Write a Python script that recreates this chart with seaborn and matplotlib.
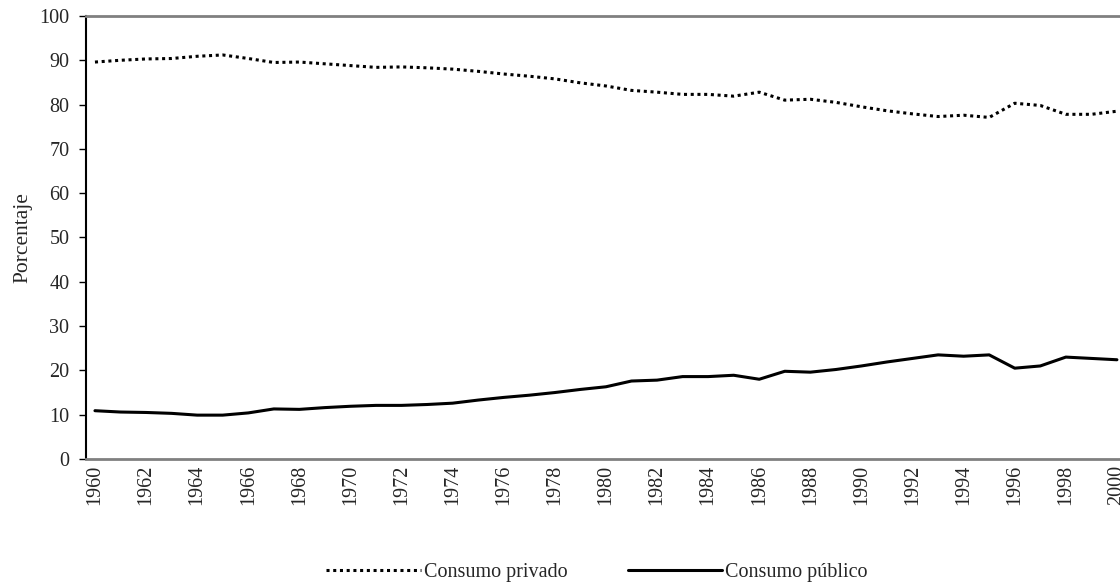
import numpy as np
import pandas as pd
import matplotlib
matplotlib.use("Agg")
import matplotlib.pyplot as plt
import seaborn as sns

years = list(range(1960, 2001))

# Consumo privado (% del total)
privado = [89.6, 90.0, 90.3, 90.4, 90.9, 91.2, 90.4, 89.5, 89.6, 89.2,
           88.8, 88.4, 88.5, 88.3, 88.0, 87.5, 86.9, 86.4, 85.8, 84.9,
           84.2, 83.2, 82.8, 82.3, 82.3, 81.9, 82.8, 81.0, 81.2, 80.5,
           79.5, 78.6, 77.9, 77.3, 77.6, 77.1, 80.3, 79.8, 77.8, 77.8,
           78.5]

# Consumo público (% del total)
publico = [10.9, 10.6, 10.5, 10.3, 9.9, 9.9, 10.4, 11.3, 11.2, 11.6,
           11.9, 12.1, 12.1, 12.3, 12.6, 13.3, 13.9, 14.4, 15.0, 15.7,
           16.3, 17.6, 17.8, 18.6, 18.6, 18.9, 18.0, 19.8, 19.6, 20.2,
           21.0, 21.9, 22.7, 23.5, 23.2, 23.5, 20.5, 21.0, 23.0, 22.7,
           22.4]

xtick_years = list(range(1960, 2001, 2))

df = pd.DataFrame({"year": years, "privado": privado, "publico": publico})

sns.set_style("white")
plt.rcParams['font.family'] = ['Liberation Serif', 'DejaVu Serif']

fig = plt.figure(figsize=(11.2, 5.85), dpi=100)
ax = fig.add_axes([0.0768, 0.2154, 0.9232, 0.7573])

sns.lineplot(data=df, x="year", y="privado", ax=ax, color="black",
             linewidth=2.2, linestyle=(0, (1, 1.2)), label="Consumo privado")
sns.lineplot(data=df, x="year", y="publico", ax=ax, color="black",
             linewidth=2.2, label="Consumo público")

ax.set_xlim(1959.65, 2000.12)
ax.set_ylim(0, 100)
ax.set_yticks(range(0, 101, 10))
ax.set_xticks(xtick_years)
ax.set_xticklabels([str(y) for y in xtick_years], rotation=90, fontsize=14.5)
ax.tick_params(axis="x", length=0, pad=4)
ax.tick_params(axis="y", direction="out", length=5, width=1, color="black",
               labelsize=14.5, pad=7, left=True)
ax.set_xlabel("")
ax.set_ylabel("Porcentaje", fontsize=15.5, labelpad=5)

for side in ["top", "bottom"]:
    ax.spines[side].set_color("#808080")
    ax.spines[side].set_linewidth(2)
ax.spines["left"].set_color("black")
ax.spines["left"].set_linewidth(1.5)
ax.spines["right"].set_visible(False)

ax.get_legend().remove()
h, l = ax.get_legend_handles_labels()
fig.legend(h, l, loc="center", bbox_to_anchor=(0.533, 0.022), ncol=2,
           frameon=False, fontsize=14.5, handlelength=4.7, handletextpad=0.15,
           columnspacing=3.0)

fig.savefig("out.png", dpi=100)
